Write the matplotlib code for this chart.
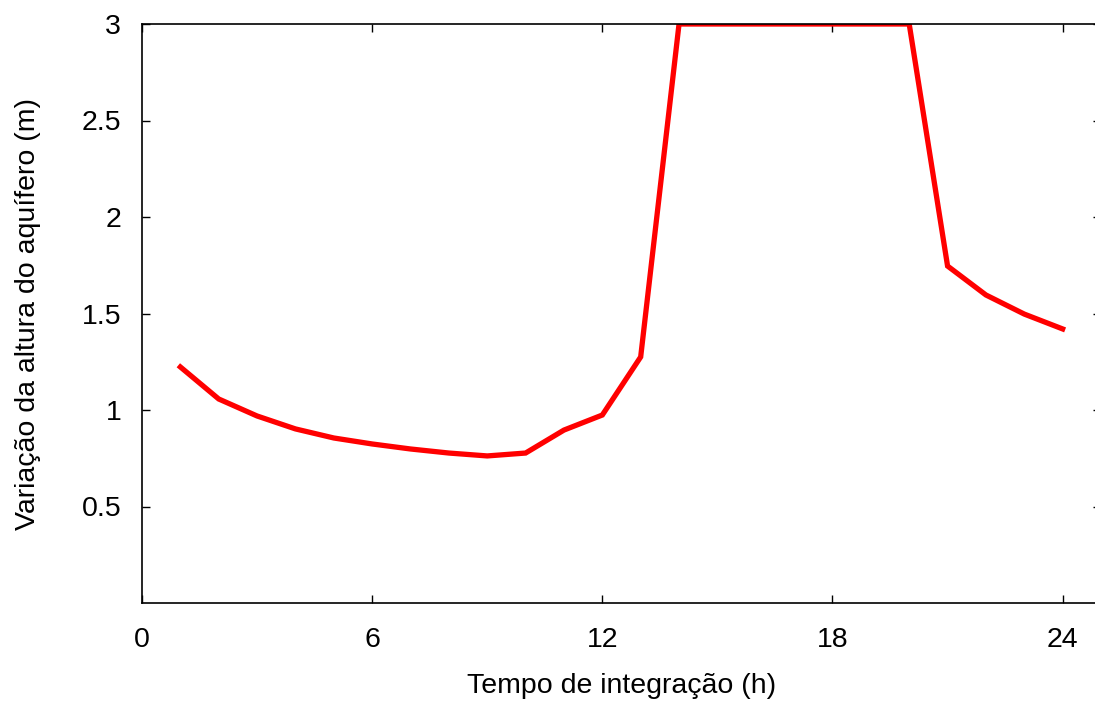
import matplotlib
matplotlib.use("Agg")
import matplotlib.pyplot as plt

hours = list(range(1, 25))
altura = [1.223, 1.057, 0.969, 0.902, 0.855, 0.824, 0.798, 0.777, 0.762, 0.777,
          0.896, 0.974, 1.275, 3.0, 3.0, 3.0, 3.0, 3.0, 3.0, 3.0,
          1.746, 1.596, 1.497, 1.42]
x_ticks = [0, 6, 12, 18, 24]
y_ticks = [0.5, 1, 1.5, 2, 2.5, 3]

plt.rcParams["font.family"] = ["Liberation Sans", "DejaVu Sans"]

fig = plt.figure(figsize=(10.95, 7.04), dpi=100)
# the right border sits just past the picture edge, as in the original
ax = fig.add_axes([142 / 1095, 1 - 603 / 704, (1101 - 142) / 1095, (603 - 24) / 704])

ax.plot(hours, altura, color="#ff0000", linewidth=3.8, solid_joinstyle="miter")

ax.set_xlim(0, 25)
ax.set_ylim(0, 3)
ax.set_xticks(x_ticks)
ax.set_yticks(y_ticks)
ax.set_yticklabels(["0.5", "1", "1.5", "2", "2.5", "3"])
ax.tick_params(direction="in", length=5.5, width=1, labelsize=20.5, top=True, right=True)
ax.tick_params(axis="x", pad=17)
ax.tick_params(axis="y", pad=15)
for s in ax.spines.values():
    s.set_linewidth(1.2)

ax.set_xlabel("Tempo de integração (h)", fontsize=20.5)
ax.set_ylabel("Variação da altura do aquífero (m)", fontsize=20.5)
ax.xaxis.set_label_coords(0.5, (603 - 686) / (603 - 24), transform=ax.transAxes)
ax.yaxis.set_label_coords((28 - 142) / (1101 - 142), 0.5, transform=ax.transAxes)
ax.xaxis.label.set_va("center")
ax.yaxis.label.set_va("center")

fig.savefig("out.png", dpi=100)
